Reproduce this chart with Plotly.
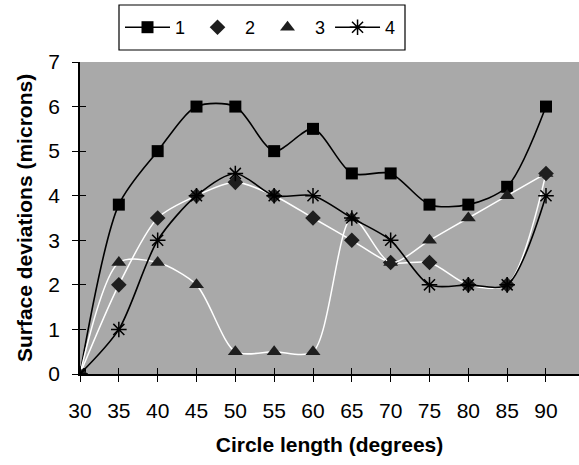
import plotly.graph_objects as go

degrees = [30, 35, 40, 45, 50, 55, 60, 65, 70, 75, 80, 85, 90]
s1 = [0, 3.8, 5.0, 6.0, 6.0, 5.0, 5.5, 4.5, 4.5, 3.8, 3.8, 4.2, 6.0]
s2 = [0, 2.0, 3.5, 4.0, 4.3, 4.0, 3.5, 3.0, 2.5, 2.5, 2.0, 2.0, 4.5]
s3 = [0, 2.5, 2.5, 2.0, 0.5, 0.5, 0.5, 3.5, 2.5, 3.0, 3.5, 4.0, 4.5]
s4 = [0, 1.0, 3.0, 4.0, 4.5, 4.0, 4.0, 3.5, 3.0, 2.0, 2.0, 2.0, 4.0]
names = ["1", "2", "3", "4"]
x_ticks = [30, 35, 40, 45, 50, 55, 60, 65, 70, 75, 80, 85, 90]
y_ticks = [0, 1, 2, 3, 4, 5, 6, 7]

FONT = "Arial, Liberation Sans, sans-serif"

fig = go.Figure()
fig.add_trace(go.Scatter(x=degrees, y=s1, name=names[0], mode="lines+markers",
                         line=dict(color="black", width=1.6, shape="spline", smoothing=0.8),
                         marker=dict(symbol="square", size=12, color="black")))
fig.add_trace(go.Scatter(x=degrees, y=s2, name=names[1], mode="lines+markers",
                         line=dict(color="white", width=1.5, shape="spline", smoothing=0.8),
                         marker=dict(symbol="diamond", size=12, color="#1e1e1e")))
fig.add_trace(go.Scatter(x=degrees, y=s3, name=names[2], mode="lines+markers",
                         line=dict(color="white", width=1.5, shape="spline", smoothing=0.8),
                         marker=dict(symbol="triangle-up", size=13, color="#1e1e1e")))
fig.add_trace(go.Scatter(x=degrees, y=s4, name=names[3], mode="lines+markers",
                         line=dict(color="black", width=1.6, shape="spline", smoothing=0.8),
                         marker=dict(symbol="asterisk-open", size=13, color="black",
                                     line=dict(color="black", width=1.5))))

x_range = [30, 94.25]
y_range = [0, 7]

# legend frame (pixel box converted to paper coords; plot area is 499x312 px)
PLOT_W, PLOT_H, L, T = 499, 312, 80, 62
def px_x(p):
    return (p - L) / PLOT_W
def px_y(p):
    return (T + PLOT_H - p) / PLOT_H

fig.add_shape(type="rect", xref="paper", yref="paper",
              x0=px_x(119), x1=px_x(405), y0=px_y(50), y1=px_y(5),
              fillcolor="white", line=dict(color="black", width=1.2), layer="above")

fig.update_layout(
    width=579, height=465,
    margin=dict(l=L, r=0, t=T, b=91, autoexpand=False),
    paper_bgcolor="white",
    plot_bgcolor="#a9a9a9",
    font=dict(family=FONT, size=21, color="black"),
    legend=dict(orientation="h", x=px_x(120), xanchor="left", y=px_y(9), yanchor="top",
                bgcolor="rgba(0,0,0,0)", borderwidth=0,
                font=dict(size=18), itemwidth=45),
    xaxis=dict(range=x_range, tickvals=x_ticks, ticks="outside", ticklen=6,
               tickcolor="black", showline=True, linecolor="black", linewidth=1.5,
               showgrid=False, zeroline=False, fixedrange=True, ticklabelstandoff=11,
               title=dict(text="<b>Circle length (degrees)</b>", standoff=16,
                          font=dict(size=21))),
    yaxis=dict(range=y_range, tickvals=y_ticks, ticks="outside", ticklen=6,
               tickcolor="black", showline=True, linecolor="black", linewidth=1.5,
               showgrid=False, zeroline=False, fixedrange=True, ticklabelstandoff=8,
               title=dict(text="<b>Surface deviations (microns)</b>", standoff=10,
                          font=dict(size=21))),
    xaxis2=dict(range=x_range, tickvals=x_ticks, ticks="inside", ticklen=6,
                tickcolor="black", showticklabels=False, showgrid=False,
                zeroline=False, overlaying="x", side="bottom", anchor="y"),
    yaxis2=dict(range=y_range, tickvals=y_ticks, ticks="inside", ticklen=6,
                tickcolor="black", showticklabels=False, showgrid=False,
                zeroline=False, overlaying="y", side="left", anchor="x"),
)
# invisible trace to activate the inner-tick axes
fig.add_trace(go.Scatter(x=[30], y=[0], xaxis="x2", yaxis="y2", mode="markers",
                         marker=dict(opacity=0), showlegend=False, hoverinfo="skip"))

fig.write_html("out.html", config={"displayModeBar": False},
               post_script="document.body.style.margin='0';")
